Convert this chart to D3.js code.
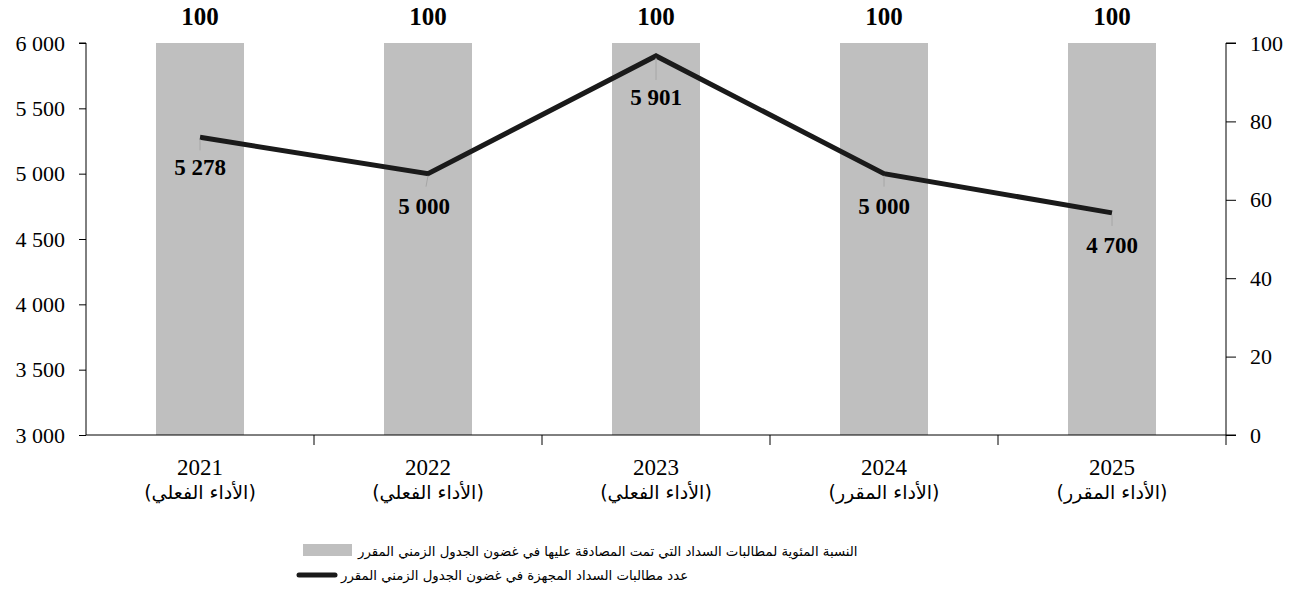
<!DOCTYPE html>
<html>
<head>
<meta charset="utf-8">
<script src="https://cdn.jsdelivr.net/npm/d3@7"></script>
<style>
  body { margin: 0; background: #fff; }
  text { font-family: "Liberation Serif", "Times New Roman", serif; }
  .ar { font-family: "DejaVu Sans", "Noto Sans", sans-serif; }
</style>
</head>
<body>
<script>
// data
const years = ['2021', '2022', '2023', '2024', '2025'];
const yearNotes = ['(الأداء الفعلي)', '(الأداء الفعلي)', '(الأداء الفعلي)', '(الأداء المقرر)', '(الأداء المقرر)'];
const pctValues = [100, 100, 100, 100, 100];
const claimCounts = [5278, 5000, 5901, 5000, 4700];
const leftTicks = [3000, 3500, 4000, 4500, 5000, 5500, 6000];
const rightTicks = [0, 20, 40, 60, 80, 100];
const legendLabels = [
  'النسبة المئوية لمطالبات السداد التي تمت المصادقة عليها في غضون الجدول الزمني المقرر',
  'عدد مطالبات السداد المجهزة في غضون الجدول الزمني المقرر'
];

const width = 1300, height = 609;
const margin = { top: 43, right: 74, bottom: 174, left: 86 };
const innerW = width - margin.left - margin.right;
const innerH = height - margin.top - margin.bottom;

const svg = d3.select('body').append('svg')
  .attr('width', width)
  .attr('height', height);

const g = svg.append('g').attr('transform', `translate(${margin.left},${margin.top})`);

const x = d3.scaleBand().domain(years).range([0, innerW]).paddingInner(0.614).paddingOuter(0.307);
const band = d3.scaleBand().domain(years).range([0, innerW]);
const yLeft = d3.scaleLinear().domain([3000, 6000]).range([innerH, 0]);
const yRight = d3.scaleLinear().domain([0, 100]).range([innerH, 0]);

const fmt = d => d3.format(',')(d).replace(/,/g, ' ');

// bars (right axis)
g.selectAll('.bar')
  .data(years)
  .enter()
  .append('rect')
  .attr('class', 'bar')
  .attr('x', d => x(d))
  .attr('width', x.bandwidth())
  .attr('y', (d, i) => yRight(pctValues[i]))
  .attr('height', (d, i) => innerH - yRight(pctValues[i]))
  .attr('fill', '#bfbfbf');

// bar labels
g.selectAll('.barlabel')
  .data(years)
  .enter()
  .append('text')
  .attr('x', d => x(d) + x.bandwidth() / 2)
  .attr('y', (d, i) => yRight(pctValues[i]) - 18)
  .attr('text-anchor', 'middle')
  .style('font-size', '25px')
  .style('font-weight', 'bold')
  .text((d, i) => pctValues[i]);

// bottom axis
g.append('line')
  .attr('x1', 0).attr('x2', innerW + 10)
  .attr('y1', innerH).attr('y2', innerH)
  .attr('stroke', '#000');
years.forEach(function (d, i) {
  if (i > 0) {
    g.append('line')
      .attr('x1', band(d)).attr('x2', band(d))
      .attr('y1', innerH).attr('y2', innerH + 10)
      .attr('stroke', '#000');
  }
});
const cat = g.selectAll('.cat')
  .data(years)
  .enter()
  .append('g')
  .attr('transform', d => `translate(${x(d) + x.bandwidth() / 2},${innerH})`);
cat.append('text')
  .attr('y', 40)
  .attr('text-anchor', 'middle')
  .style('font-size', '23px')
  .text(d => d);
cat.append('text')
  .attr('class', 'ar')
  .attr('y', 64)
  .attr('text-anchor', 'middle')
  .style('font-size', '19px')
  .text((d, i) => yearNotes[i]);

// left axis
const axL = g.append('g')
  .call(d3.axisLeft(yLeft).tickValues(leftTicks).tickFormat(fmt).tickSize(7).tickPadding(14));
axL.select('.domain').attr('stroke', '#000').attr('d', `M-7,0H0V${innerH}`);
axL.selectAll('text').style('font-size', '22px').style('font-family', '"Liberation Serif", serif').attr('fill', '#000');

// right axis
const axR = g.append('g')
  .attr('transform', `translate(${innerW},0)`)
  .call(d3.axisRight(yRight).tickValues(rightTicks).tickSize(10).tickPadding(14));
axR.select('.domain').attr('stroke', '#000').attr('d', `M10,0H0V${innerH + 10}`);
axR.selectAll('text').style('font-size', '22px').style('font-family', '"Liberation Serif", serif').attr('fill', '#000');

// line (left axis)
const line = d3.line()
  .x((d, i) => x(years[i]) + x.bandwidth() / 2)
  .y(d => yLeft(d));

g.append('path')
  .datum(claimCounts)
  .attr('d', line)
  .attr('fill', 'none')
  .attr('stroke', '#1a1a1a')
  .attr('stroke-width', 5)
  .attr('stroke-linejoin', 'miter');

// leader lines and value labels
const labelOffsets = [30, 32, 41, 32, 32];
claimCounts.forEach(function (v, i) {
  const cx = x(years[i]) + x.bandwidth() / 2;
  const cy = yLeft(v);
  g.append('line')
    .attr('x1', cx).attr('x2', cx - (i === 1 ? 2 : 0))
    .attr('y1', cy + 2).attr('y2', cy + (i === 2 ? 24 : 13))
    .attr('stroke', '#a6a6a6')
    .attr('stroke-width', 1);
  g.append('text')
    .attr('x', cx - (i === 1 ? 4 : 0))
    .attr('y', cy + labelOffsets[i] + 8)
    .attr('text-anchor', 'middle')
    .style('font-size', '23px')
    .style('font-weight', 'bold')
    .text(fmt(v));
});

// legend
const legendX = [303, 297];
legendLabels.forEach(function (label, i) {
  const ly = 556 + i * 24;
  if (i === 0) {
    svg.append('rect')
      .attr('x', legendX[i]).attr('y', ly - 12)
      .attr('width', 49).attr('height', 12)
      .attr('fill', '#bfbfbf');
  } else {
    svg.append('line')
      .attr('x1', legendX[i] + 2).attr('x2', legendX[i] + 38)
      .attr('y1', ly - 5).attr('y2', ly - 5)
      .attr('stroke', '#1a1a1a')
      .attr('stroke-width', 5)
      .attr('stroke-linecap', 'round');
  }
  svg.append('text')
    .attr('class', 'ar')
    .attr('x', legendX[i] + (i === 0 ? 55 : 44))
    .attr('y', ly)
    .attr('direction', 'rtl')
    .attr('text-anchor', 'end')
    .style('font-size', '13.3px')
    .text(label);
});
</script>
</body>
</html>
